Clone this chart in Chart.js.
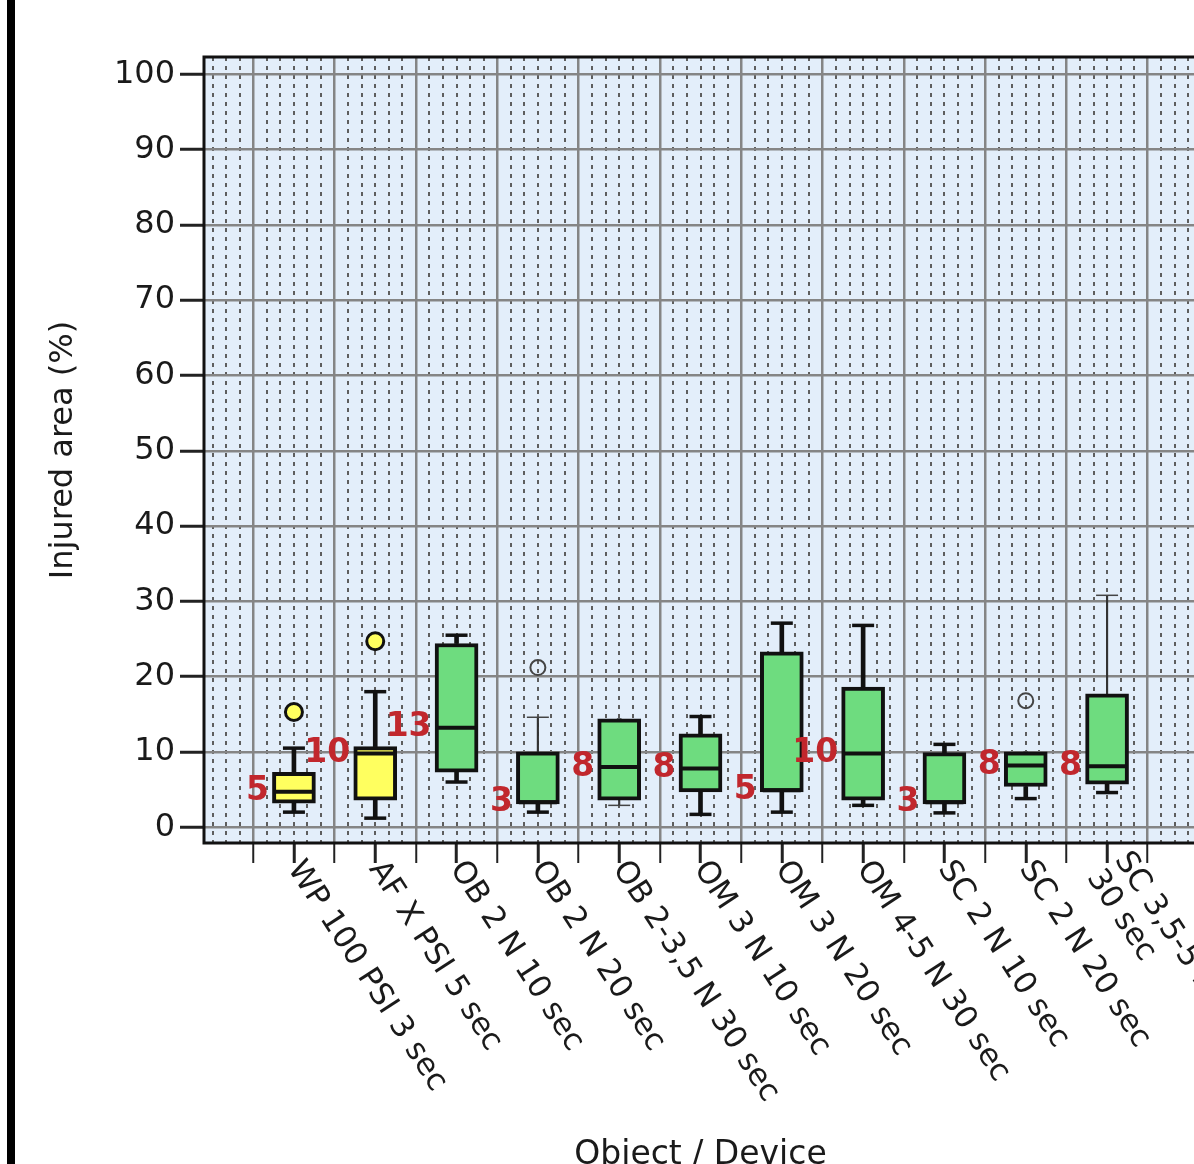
<!DOCTYPE html>
<html lang="en">
<head>
<meta charset="utf-8">
<title>Injured area by object / device</title>
<script src="https://cdn.jsdelivr.net/npm/chart.js@4.4.1/dist/chart.umd.min.js"></script>
<style>
  html, body { margin: 0; padding: 0; overflow: hidden; background: #fff; }
  #lienzo { position: relative; width: 1220px; height: 1200px; }
  #marco { position: absolute; left: 7px; top: 0; width: 8px; height: 1200px; background: #000; }
  #grafico { position: absolute; left: 0; top: 0; }
</style>
</head>
<body>
<div id="lienzo">
  <div id="marco"></div>
  <canvas id="grafico" width="1220" height="1200"></canvas>
</div>
<script>
// ================================
// DATOS
// ================================
const categorias = [
  "WP 100 PSI 3 sec",
  "AF X PSI 5 sec",
  "OB 2 N 10 sec",
  "OB 2 N 20 sec",
  "OB 2-3,5 N 30 sec",
  "OM 3 N 10 sec",
  "OM 3 N 20 sec",
  "OM 4-5 N 30 sec",
  "SC 2 N 10 sec",
  "SC 2 N 20 sec",
  ["SC 3,5-5 N", "30 sec"],
];
const tipoObjeto = ["fluido", "fluido", "solido", "solido", "solido", "solido", "solido", "solido", "solido", "solido", "solido"];

const bigoteInferior = [2.0, 1.2, 6.0, 2.0, 2.9, 1.7, 2.0, 2.9, 1.9, 3.8, 4.6];
const cuartil1 = [3.2, 3.6, 7.3, 3.1, 3.6, 4.7, 4.7, 3.6, 3.1, 5.4, 5.7];
const mediana = [4.7, 9.8, 13.2, 3.3, 8.0, 7.8, 4.9, 9.8, 3.3, 8.2, 8.1];
const cuartil3 = [7.3, 10.7, 24.4, 10.0, 14.4, 12.4, 23.3, 18.6, 9.9, 10.0, 17.7];
const bigoteSuperior = [10.5, 18.0, 25.5, 14.6, 14.4, 14.7, 27.1, 26.8, 11.0, 10.0, 30.8];
const atipicos = [[15.3], [24.7], [], [21.2], [], [], [], [], [], [16.8], []];
const tamanoMuestra = [5, 10, 13, 3, 8, 8, 5, 10, 3, 8, 8];

const ticksY = [0, 10, 20, 30, 40, 50, 60, 70, 80, 90, 100];

// estilos
const bigotesSupFinos = [3, 10];
const bigotesInfFinos = [4];
const COLOR_FLUIDO = "#ffff5f";
const COLOR_SOLIDO = "#6edc7f";
const FUENTE = "'DejaVu Sans', 'Liberation Sans', Arial, sans-serif";
const ANGULO = (57 * Math.PI) / 180;
const X_MIN = -1.106;
const X_MAX = 11.106;

const indices = categorias.map((_, i) => i);
const colorDe = (i) => (tipoObjeto[i] === "fluido" ? COLOR_FLUIDO : COLOR_SOLIDO);

// ================================
// SEGMENTOS DE BIGOTES
// ================================
const bigotesGruesos = [];
const bigotesFinos = [];
const topesGruesos = [];
const topesFinos = [];
indices.forEach((i) => {
  const sup = bigotesSupFinos.includes(i);
  const inf = bigotesInfFinos.includes(i);
  (sup ? bigotesFinos : bigotesGruesos).push({ x: i, y: [cuartil3[i], bigoteSuperior[i]] });
  (inf ? bigotesFinos : bigotesGruesos).push({ x: i, y: [bigoteInferior[i], cuartil1[i]] });
  if (bigoteSuperior[i] > cuartil3[i]) (sup ? topesFinos : topesGruesos).push({ x: i, y: bigoteSuperior[i] });
  if (bigoteInferior[i] < cuartil1[i]) (inf ? topesFinos : topesGruesos).push({ x: i, y: bigoteInferior[i] });
});

const atipicosRellenos = [];
const atipicosHuecos = [];
atipicos.forEach((lista, i) => {
  lista.forEach((v) => {
    (tipoObjeto[i] === "fluido" ? atipicosRellenos : atipicosHuecos).push({ x: i, y: v });
  });
});

// ================================
// PLUGINS
// ================================
const fondoArea = {
  id: "fondoArea",
  beforeDraw(chart) {
    const { ctx, chartArea: a } = chart;
    ctx.save();
    ctx.fillStyle = "#e3eefa";
    ctx.fillRect(a.left, a.top, a.right - a.left, a.bottom - a.top);
    ctx.restore();
  },
  beforeDatasetsDraw(chart) {
    const { ctx, chartArea: a } = chart;
    ctx.save();
    ctx.strokeStyle = "#111";
    ctx.lineWidth = 3;
    ctx.strokeRect(a.left, a.top, a.right - a.left, a.bottom - a.top);
    ctx.restore();
  },
};

const textos = {
  id: "textos",
  afterDatasetsDraw(chart) {
    const { ctx, chartArea, scales: { x, y } } = chart;
    ctx.save();
    // tamaño de muestra junto a cada caja
    ctx.font = "bold 33px " + FUENTE;
    ctx.fillStyle = "#c1272d";
    ctx.textAlign = "right";
    ctx.textBaseline = "middle";
    indices.forEach((i) => {
      ctx.fillText(String(tamanoMuestra[i]), x.getPixelForValue(i) - 25, y.getPixelForValue(mediana[i]));
    });
    // etiquetas de categoría giradas
    ctx.font = "31px " + FUENTE;
    ctx.fillStyle = "#1a1a1a";
    ctx.textAlign = "left";
    categorias.forEach((cat, i) => {
      const lineas = Array.isArray(cat) ? cat : [cat];
      ctx.save();
      ctx.translate(x.getPixelForValue(i), chartArea.bottom + 21);
      ctx.rotate(ANGULO);
      lineas.forEach((l, k) => ctx.fillText(l, 0, (k - (lineas.length - 1) / 2) * 33));
      ctx.restore();
    });
    ctx.restore();
  },
};

// ================================
// GRÁFICO
// ================================
const ctxGrafico = document.getElementById("grafico");

new Chart(ctxGrafico, {
  type: "bar",
  data: {
    datasets: [
      {
        label: "Bigotes",
        data: bigotesGruesos,
        backgroundColor: "#111",
        borderWidth: 0,
        barThickness: 4,
        grouped: false,
        order: 6,
      },
      {
        label: "Bigotes finos",
        data: bigotesFinos,
        backgroundColor: "#333",
        borderWidth: 0,
        barThickness: 1.5,
        grouped: false,
        order: 6,
      },
      {
        label: "Cajas",
        data: indices.map((i) => ({ x: i, y: [cuartil1[i], cuartil3[i]] })),
        backgroundColor: indices.map(colorDe),
        borderColor: "#111",
        borderWidth: 4,
        borderSkipped: false,
        barThickness: 43,
        grouped: false,
        order: 5,
      },
      {
        type: "scatter",
        label: "Mediana",
        data: indices.map((i) => ({ x: i, y: mediana[i] })),
        pointStyle: "line",
        radius: 19,
        borderWidth: 4,
        borderColor: "#111",
        order: 3,
      },
      {
        type: "scatter",
        label: "Topes",
        data: topesGruesos,
        pointStyle: "line",
        radius: 11,
        borderWidth: 3.5,
        borderColor: "#111",
        order: 3,
      },
      {
        type: "scatter",
        label: "Topes finos",
        data: topesFinos,
        pointStyle: "line",
        radius: 11,
        borderWidth: 1.5,
        borderColor: "#444",
        order: 3,
      },
      {
        type: "scatter",
        label: "Atípicos",
        data: atipicosRellenos,
        pointStyle: "circle",
        radius: 8.5,
        backgroundColor: COLOR_FLUIDO,
        borderColor: "#111",
        borderWidth: 3,
        order: 2,
      },
      {
        type: "scatter",
        label: "Atípicos huecos",
        data: atipicosHuecos,
        pointStyle: "circle",
        radius: 7.5,
        backgroundColor: "rgba(0,0,0,0)",
        borderColor: "#444",
        borderWidth: 2,
        order: 2,
      },
    ],
  },
  options: {
    responsive: false,
    animation: false,
    events: [],
    layout: { padding: { top: 57, right: 22, bottom: 0, left: 0 } },
    plugins: {
      legend: { display: false },
      tooltip: { enabled: false },
    },
    scales: {
      x: {
        type: "linear",
        position: "bottom",
        offset: false,
        min: X_MIN,
        max: X_MAX,
        afterBuildTicks: (s) => {
          const t = [];
          for (let v = -0.5; v <= 10.5; v += 0.5) t.push({ value: v });
          s.ticks = t;
        },
        afterFit: (s) => { s.height = 357; },
        ticks: { display: false },
        grid: {
          offset: false,
          color: (c) => (c.tick && c.tick.value % 1 !== 0 ? "#858585" : "rgba(0,0,0,0)"),
          lineWidth: 2.5,
          tickLength: 20,
          tickColor: "#222",
          tickWidth: (c) => (c.tick && c.tick.value % 1 === 0 ? 3 : 2),
        },
        border: { display: false },
        title: {
          display: true,
          text: "Object / Device",
          color: "#1a1a1a",
          font: { family: FUENTE, size: 33 },
          padding: { top: 0, bottom: 25 },
        },
      },
      xMenor: {
        type: "linear",
        position: "bottom",
        offset: false,
        min: X_MIN,
        max: X_MAX,
        afterBuildTicks: (s) => {
          const t = [];
          for (let k = -6; k <= 66; k++) {
            if (k % 3 !== 0 || k % 6 === 0) t.push({ value: k / 6 });
          }
          s.ticks = t;
        },
        afterFit: (s) => { s.height = 0; },
        ticks: { display: false },
        grid: { offset: false, color: "#5e5e5e", lineWidth: 2, drawTicks: false },
        border: { display: false, dash: [4, 5] },
      },
      y: {
        type: "linear",
        min: -2.1,
        max: 102.3,
        afterBuildTicks: (s) => { s.ticks = ticksY.map((v) => ({ value: v })); },
        afterFit: (s) => { s.width = 204; },
        ticks: {
          color: "#1a1a1a",
          font: { family: FUENTE, size: 32 },
          padding: 5,
        },
        grid: {
          color: "#858585",
          lineWidth: 2.5,
          tickLength: 24,
          tickColor: "#222",
          tickWidth: 3,
        },
        border: { display: false },
        title: {
          display: true,
          text: "Injured area (%)",
          color: "#1a1a1a",
          font: { family: FUENTE, size: 32 },
          padding: { top: 44, bottom: 0 },
        },
      },
    },
  },
  plugins: [fondoArea, textos],
});
</script>
</body>
</html>
